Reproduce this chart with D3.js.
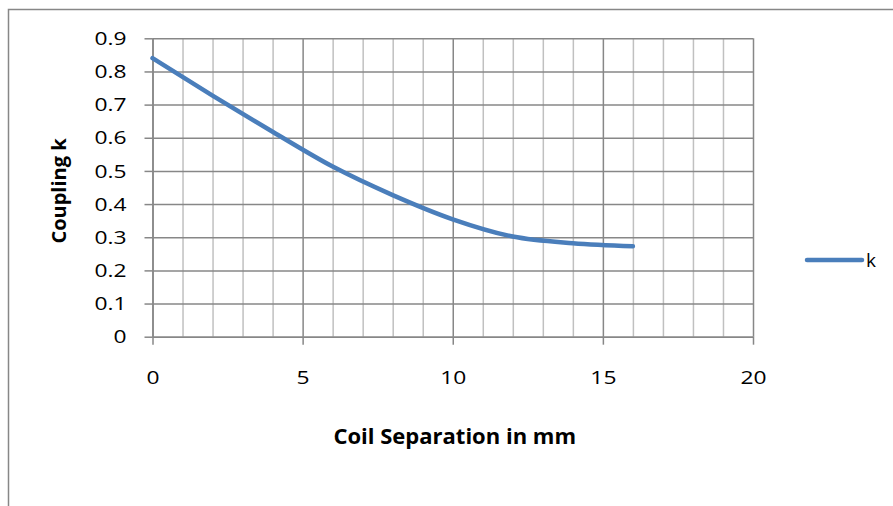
<!DOCTYPE html>
<html>
<head>
<meta charset="utf-8">
<script src="https://cdn.jsdelivr.net/npm/d3@7"></script>
<style>
  body { margin: 0; background: #fff; }
  svg { display: block; }
</style>
</head>
<body>
<svg></svg>
<script>
const width = 893
const height = 506

// Data
const separation = [0, 2, 4, 6, 8, 10, 12, 14, 16]
const coupling = [0.84, 0.727, 0.618, 0.513, 0.427, 0.354, 0.302, 0.282, 0.273]
const xTicks = [0, 5, 10, 15, 20]
const yTicks = [0, 0.1, 0.2, 0.3, 0.4, 0.5, 0.6, 0.7, 0.8, 0.9]
const seriesName = "k"

// Style configuration
const lineColor = "#4a7ebb"
const majorGrid = "#878787"
const minorGrid = "#c0c0c0"
const fontFamily = "'Open Sans', sans-serif"
const labelStretch = 1.2

const plot = { left: 152.5, right: 753, top: 38.3, bottom: 336.7 }

const svg = d3.select("svg")
    .attr("width", width)
    .attr("height", height)

// Chart border, runs past right and bottom edges
svg.append("rect")
    .attr("x", 8.5).attr("y", 9.5)
    .attr("width", 920).attr("height", 540)
    .attr("fill", "none")
    .attr("stroke", majorGrid)
    .attr("stroke-width", 1.5)

const x = d3.scaleLinear().domain([0, 20]).range([plot.left, plot.right])
const y = d3.scaleLinear().domain([0, 0.9]).range([plot.bottom, plot.top])

// Minor vertical gridlines
svg.append("g")
    .attr("transform", `translate(0,${plot.bottom})`)
    .call(d3.axisBottom(x).tickValues(d3.range(1, 21).filter(d => d % 5 != 0)).tickSize(-(plot.bottom - plot.top)).tickFormat(""))
    .call(g => g.select(".domain").remove())
    .call(g => g.selectAll("line").attr("stroke", minorGrid).attr("stroke-width", 1.5))

// Major vertical gridlines
svg.append("g")
    .attr("transform", `translate(0,${plot.bottom})`)
    .call(d3.axisBottom(x).tickValues(xTicks).tickSize(-(plot.bottom - plot.top)).tickFormat(""))
    .call(g => g.select(".domain").remove())
    .call(g => g.selectAll("line").attr("stroke", majorGrid).attr("stroke-width", 1.5))

// Horizontal gridlines
svg.append("g")
    .attr("transform", `translate(${plot.left},0)`)
    .call(d3.axisLeft(y).tickValues(yTicks).tickSize(-(plot.right - plot.left)).tickFormat(""))
    .call(g => g.select(".domain").remove())
    .call(g => g.selectAll("line").attr("stroke", majorGrid).attr("stroke-width", 1.5))

// Y axis
svg.append("g")
    .attr("transform", `translate(${plot.left},0)`)
    .call(d3.axisLeft(y).tickValues(yTicks).tickSize(8).tickSizeOuter(0).tickFormat(d => d == 0 ? "0" : d3.format(".1f")(d)))
    .call(g => g.select(".domain").attr("stroke", majorGrid).attr("stroke-width", 1.5))
    .call(g => g.selectAll("line").attr("stroke", majorGrid).attr("stroke-width", 1.5))
    .call(g => g.selectAll("text")
        .attr("x", 0)
        .attr("transform", `translate(-26,0) scale(${labelStretch},1)`)
        .attr("font-family", fontFamily)
        .attr("font-size", 19)
        .attr("fill", "#000"))

// X axis
svg.append("g")
    .attr("transform", `translate(0,${plot.bottom})`)
    .call(d3.axisBottom(x).tickValues(xTicks).tickSize(8).tickSizeOuter(0).tickPadding(26))
    .call(g => g.select(".domain").attr("stroke", majorGrid).attr("stroke-width", 1.5))
    .call(g => g.selectAll("line").attr("stroke", majorGrid).attr("stroke-width", 1.5))
    .call(g => g.selectAll("text")
        .attr("transform", `scale(${labelStretch},1)`)
        .attr("font-family", fontFamily)
        .attr("font-size", 19)
        .attr("fill", "#000"))

// Series line
const line = d3.line()
    .x((d, i) => x(separation[i]))
    .y(d => y(d))
    .curve(d3.curveMonotoneX)

svg.append("path")
    .datum(coupling)
    .attr("d", line)
    .attr("fill", "none")
    .attr("stroke", lineColor)
    .attr("stroke-width", 4.5)
    .attr("stroke-linecap", "round")

// Axis titles
svg.append("text")
    .attr("x", (plot.left + plot.right) / 2 + 2)
    .attr("y", 444)
    .attr("text-anchor", "middle")
    .attr("font-family", fontFamily)
    .attr("font-weight", "bold")
    .attr("font-size", 22)
    .text("Coil Separation in mm")

svg.append("text")
    .attr("transform", `translate(66,191) rotate(-90)`)
    .attr("text-anchor", "middle")
    .attr("font-family", fontFamily)
    .attr("font-weight", "bold")
    .attr("font-size", 20)
    .text("Coupling k")

// Legend
const legend = svg.append("g").attr("transform", "translate(807,260)")
legend.append("line")
    .attr("x1", 0).attr("x2", 55)
    .attr("stroke", lineColor)
    .attr("stroke-width", 4.5)
    .attr("stroke-linecap", "round")
legend.append("text")
    .attr("x", 59).attr("y", 7)
    .attr("font-family", fontFamily)
    .attr("font-size", 19)
    .text(seriesName)
</script>
</body>
</html>
